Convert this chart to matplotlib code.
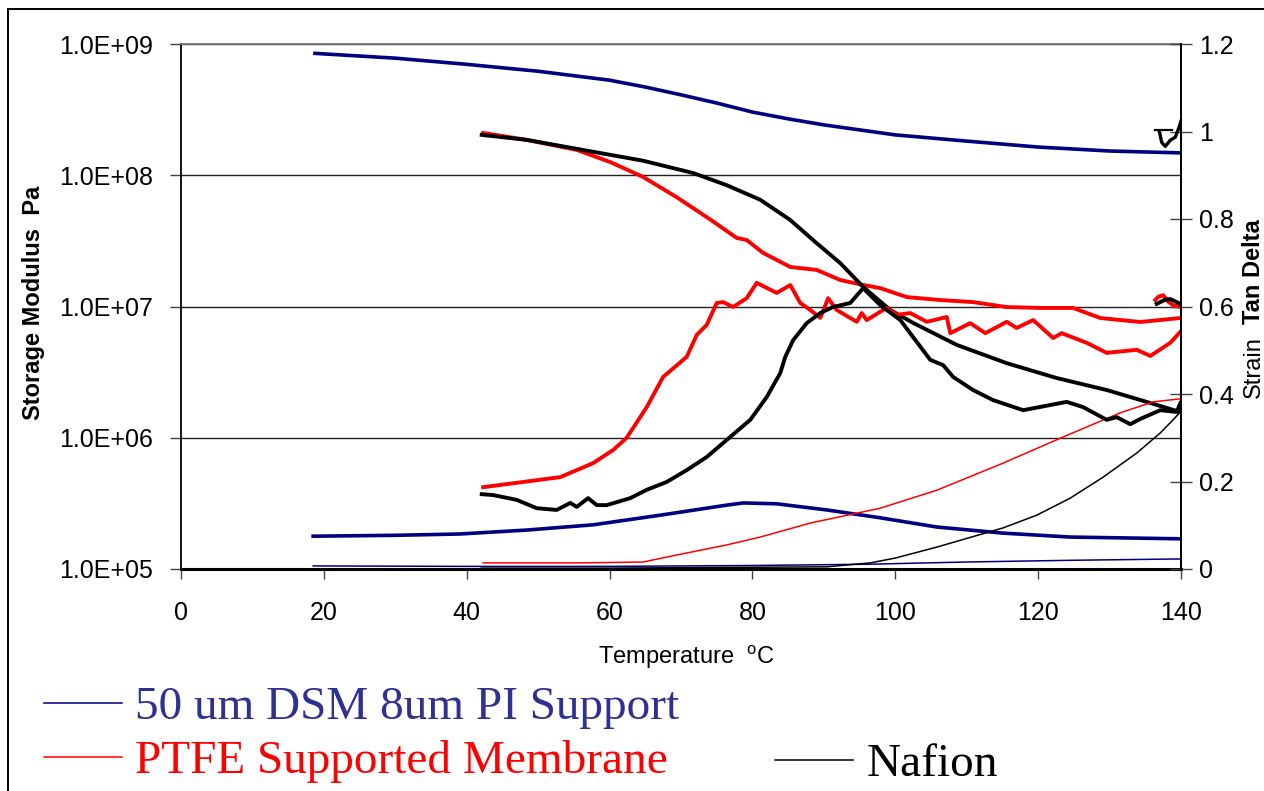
import numpy as np
import matplotlib
matplotlib.use('Agg')
import matplotlib.pyplot as plt
from matplotlib.patches import Rectangle
from matplotlib.ticker import FuncFormatter, NullLocator, FixedLocator

# 50 um DSM 8um PI Support
dsm_mod_t = [18.5, 30, 40, 50, 60, 65, 70, 75, 80, 85, 90, 100, 110, 120, 130, 140]
dsm_mod = [8.5e8, 7.8e8, 7.0e8, 6.2e8, 5.3e8, 4.7e8, 4.1e8, 3.55e8, 3.03e8, 2.69e8,
           2.42e8, 2.03e8, 1.82e8, 1.64e8, 1.53e8, 1.48e8]
dsm_tan_t = [18.5, 30, 39, 48.4, 57.7, 67.1, 76.4, 78.7, 83.4, 90.4, 97.9, 105.8, 115.1, 124.5, 140]
dsm_tan = [0.075, 0.077, 0.080, 0.089, 0.101, 0.123, 0.146, 0.151, 0.149, 0.135, 0.117,
           0.096, 0.082, 0.073, 0.069]
dsm_strain_t = [18.5, 40, 60, 80, 96.5, 110, 125, 140]
dsm_strain = [0.007, 0.006, 0.006, 0.008, 0.011, 0.016, 0.020, 0.023]

# PTFE Supported Membrane
ptfe_mod_t = [42.3, 48.4, 55.4, 60.1, 64.7, 69.4, 74.1, 77.8, 79.2, 81.5, 85.3, 89.0, 92.3,
              95.5, 97.9, 101.6, 106.3, 110.9, 115.6, 120.3, 124.9, 128.7, 134.3, 139.9]
ptfe_mod = [2.10e8, 1.86e8, 1.56e8, 1.26e8, 9.7e7, 6.8e7, 4.6e7, 3.33e7, 3.21e7, 2.56e7,
            2.0e7, 1.90e7, 1.59e7, 1.46e7, 1.38e7, 1.18e7, 1.12e7, 1.08e7, 9.9e6, 9.75e6,
            9.75e6, 8.17e6, 7.62e6, 8.17e6]
ptfe_tan_t = [42.3, 53.1, 57.7, 60.5, 62.4, 65.2, 67.5, 70.8, 72.2, 73.6, 75.0, 75.9, 77.3,
              79.2, 80.6, 83.4, 85.3, 86.7, 88.1, 89.5, 90.6, 91.8, 94.6, 95.3, 96.0, 98.8,
              100.2, 102.1, 104.4, 107.2, 107.7, 110.5, 112.6, 115.6, 117.0, 119.3, 122.1,
              123.3, 126.8, 129.6, 133.8, 135.7, 138.5, 139.9]
ptfe_tan = [0.187, 0.210, 0.242, 0.272, 0.300, 0.370, 0.439, 0.485, 0.535, 0.558, 0.608,
            0.610, 0.599, 0.619, 0.654, 0.631, 0.649, 0.608, 0.592, 0.574, 0.619, 0.592,
            0.565, 0.585, 0.569, 0.597, 0.581, 0.585, 0.565, 0.576, 0.539, 0.562, 0.539,
            0.565, 0.551, 0.569, 0.528, 0.539, 0.517, 0.494, 0.501, 0.487, 0.517, 0.542]
ptfe_tail_t = [136.4, 136.8, 137.5, 138.2, 138.9, 139.9]
ptfe_tail = [0.615, 0.622, 0.626, 0.611, 0.603, 0.599]
ptfe_strain_t = [42.3, 56.3, 64.7, 69.4, 76.4, 81.1, 88.1, 97.9, 105.8, 115.1, 123.1, 131.5,
                 136.1, 139.9]
ptfe_strain = [0.014, 0.014, 0.016, 0.032, 0.055, 0.073, 0.105, 0.139, 0.180, 0.242, 0.299,
               0.357, 0.382, 0.389]

# Nafion
naf_mod_t = [42.1, 48.4, 56.8, 64.7, 71.7, 76.4, 81.1, 85.3, 88.8, 92.3, 95.5, 99.3, 102.5,
             108.6, 115.6, 122.6, 129.6, 134.3, 138.9, 140]
naf_mod = [2.03e8, 1.86e8, 1.54e8, 1.29e8, 1.04e8, 8.4e7, 6.5e7, 4.56e7, 3.1e7, 2.14e7,
           1.41e7, 9.4e6, 7.5e6, 5.1e6, 3.7e6, 2.85e6, 2.31e6, 1.94e6, 1.63e6, 1.57e6]
naf_tan_t = [42.1, 43.7, 47.0, 49.8, 52.6, 54.5, 55.4, 57.0, 58.2, 59.6, 62.9, 65.2, 68.0,
             70.8, 73.6, 76.9, 79.7, 82.0, 83.9, 84.6, 85.7, 87.6, 89.5, 91.3, 93.7, 95.5,
             97.9, 100.7, 102.5, 104.9, 106.7, 108.1, 110.9, 113.7, 117.9, 124.0, 126.3,
             129.6, 131.0, 132.9, 134.3, 137.1, 139.4, 139.9]
naf_tan = [0.171, 0.169, 0.158, 0.139, 0.135, 0.151, 0.142, 0.162, 0.146, 0.146, 0.162,
           0.181, 0.199, 0.226, 0.256, 0.302, 0.341, 0.393, 0.448, 0.485, 0.523, 0.562,
           0.585, 0.599, 0.608, 0.642, 0.603, 0.569, 0.530, 0.478, 0.466, 0.439, 0.409,
           0.386, 0.363, 0.382, 0.370, 0.341, 0.347, 0.331, 0.343, 0.363, 0.359, 0.379]
naf_tail1_t = [136.6, 137.7, 138.5, 139.9]
naf_tail1 = [0.606, 0.615, 0.617, 0.606]
naf_tail2_t = [136.4, 138.8]
naf_tail2 = [1.003, 1.003]
naf_tail3_t = [137.0, 137.3, 137.8, 138.5, 139.2, 139.7, 140.0]
naf_tail3 = [0.998, 0.975, 0.966, 0.980, 0.987, 1.008, 1.024]
naf_strain_t = [42, 60, 80, 90.4, 96.5, 100, 105.8, 115.1, 119.8, 124.5, 129.1, 133.8,
                137.1, 138.9, 139.9]
naf_strain = [0.002, 0.002, 0.004, 0.005, 0.014, 0.025, 0.050, 0.094, 0.123, 0.162, 0.210,
              0.265, 0.311, 0.341, 0.359]

mod_ticks = [1e5, 1e6, 1e7, 1e8, 1e9]
tan_ticks = [0, 0.2, 0.4, 0.6, 0.8, 1.0, 1.2]
temp_ticks = [0, 20, 40, 60, 80, 100, 120, 140]

blue = '#000080'
red = '#FF0000'
black = '#000000'
sans = 'Liberation Sans'
serif = 'Liberation Serif'

fig = plt.figure(figsize=(12.64, 7.91), dpi=100)
ax = fig.add_axes([181 / 1264, 1 - 569 / 791, 1000 / 1264, 525 / 791])
ax2 = ax.twinx()

# Storage modulus (left, log)
ax.plot(dsm_mod_t, dsm_mod, color=blue, lw=2.6, solid_capstyle='butt')
ax.plot(ptfe_mod_t, ptfe_mod, color=red, lw=2.8)
ax.plot(naf_mod_t, naf_mod, color=black, lw=2.8)

# Tan delta and strain (right)
ax2.plot(dsm_tan_t, dsm_tan, color=blue, lw=2.6)
l_dsm, = ax2.plot(dsm_strain_t, dsm_strain, color=blue, lw=1.1)
ax2.plot(ptfe_tan_t, ptfe_tan, color=red, lw=2.8)
ax2.plot(ptfe_tail_t, ptfe_tail, color=red, lw=2.8)
l_ptfe, = ax2.plot(ptfe_strain_t, ptfe_strain, color=red, lw=1.1)
ax2.plot(naf_tan_t, naf_tan, color=black, lw=2.8)
ax2.plot(naf_tail1_t, naf_tail1, color=black, lw=2.8)
ax2.plot(naf_tail2_t, naf_tail2, color=black, lw=1.6)
ax2.plot(naf_tail3_t, naf_tail3, color=black, lw=2.4)
l_naf, = ax2.plot(naf_strain_t, naf_strain, color=black, lw=1.1)

ax.set_xlim(0, 140)
ax.set_yscale('log')
ax.set_ylim(1e5, 1e9)
ax2.set_ylim(0, 1.2)

ax.xaxis.set_major_locator(FixedLocator(temp_ticks))
ax.yaxis.set_major_locator(FixedLocator(mod_ticks))
ax.yaxis.set_minor_locator(NullLocator())
ax.yaxis.set_major_formatter(FuncFormatter(lambda v, p: '%.1E' % v))
ax2.yaxis.set_major_locator(FixedLocator(tan_ticks))
ax2.yaxis.set_major_formatter(FuncFormatter(lambda v, p: '%g' % v))

ax.yaxis.grid(True, color='#222222', lw=1.0)
ax.set_axisbelow(True)

ax.tick_params(axis='y', direction='out', length=8, width=1, pad=12, labelsize=18,
               color='#444444')
ax.tick_params(axis='x', direction='out', length=7, width=1, pad=16, labelsize=18,
               color='#444444')
ax2.tick_params(axis='y', direction='inout', length=16, width=1, pad=5, labelsize=18,
                color='#444444')
for lab in ax.get_xticklabels() + ax.get_yticklabels() + ax2.get_yticklabels():
    lab.set_fontfamily(sans)

for s in ['left', 'right']:
    ax.spines[s].set_linewidth(1.3)
ax.spines['bottom'].set_linewidth(2.2)
ax.spines['top'].set_color('#777777')
ax.spines['top'].set_linewidth(1.3)
ax2.spines['right'].set_linewidth(1.3)
for s in ['left', 'top', 'bottom']:
    ax2.spines[s].set_visible(False)

# Axis titles
fig.text(34 / 1264, 1 - 303 / 791, 'Storage Modulus  Pa', rotation=90, ha='center',
         va='center', fontsize=17, fontweight='bold', family=sans)
fig.text(1254 / 1264, 1 - 367 / 791, 'Strain', rotation=90, ha='center', va='center',
         fontsize=17, family=sans)
fig.text(1254 / 1264, 1 - 272 / 791, 'Tan Delta', rotation=90, ha='center', va='center',
         fontsize=17, fontweight='bold', family=sans)
fig.text(686 / 1264, 1 - 657 / 791, r'Temperature  $^{\mathregular{o}}$C', ha='center',
         va='center', fontsize=17, family=sans)

# Legend
leg1 = fig.legend([l_dsm, l_ptfe], ['50 um DSM 8um PI Support', 'PTFE Supported Membrane'],
                  loc='upper left', bbox_to_anchor=(44 / 1264, 1 - 686 / 791),
                  frameon=False, borderpad=0, borderaxespad=0, handlelength=1.65,
                  handletextpad=0.28, labelspacing=0.24, prop={'family': serif, 'size': 34})
leg1.get_texts()[0].set_color('#2E3192')
leg1.get_texts()[1].set_color(red)
leg2 = fig.legend([l_naf], ['Nafion'], loc='upper left',
                  bbox_to_anchor=(775 / 1264, 1 - 743 / 791), frameon=False, borderpad=0,
                  borderaxespad=0, handlelength=1.65, handletextpad=0.28,
                  prop={'family': serif, 'size': 34})

# outer frame of the slide
fig.add_artist(Rectangle((8 / 1264, -0.1), 1.2, 1.1 - 9 / 791, transform=fig.transFigure,
                         fill=False, edgecolor='black', lw=1.4, clip_on=False))

fig.savefig('out.png', dpi=100)
